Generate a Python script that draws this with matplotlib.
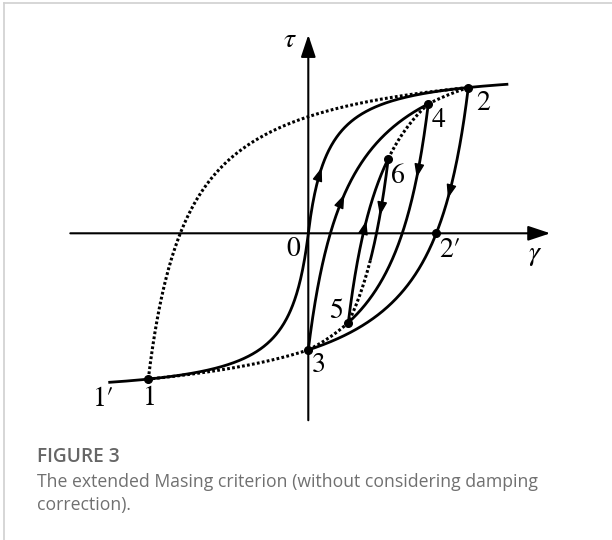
import numpy as np
import matplotlib.pyplot as plt
from matplotlib.lines import Line2D

plt.rcParams['mathtext.fontset'] = 'stix'

# reversal points of the load path (strain, in units of the reference strain)
point_labels = ['1', '2', '3', '4', '5', '6']
point_gamma = [-8.0, 8.0, 0.0, 6.0, 2.0, 4.0]
gamma_max = 10.0          # extent of the backbone curve
gamma_split_6 = 3.1       # unloading from 6 switches to dotted here

# curve arrows: branch it sits on and the strain of the arrowhead
arrow_branch = ['backbone', '3', '5', '6', '4', '2']
arrow_gamma = [0.67, 1.8, 2.9, 3.58, 5.42, 6.98]


def backbone(g):
    # hyperbolic skeleton curve, tau normalised by tau_max
    return g / (1 + np.abs(g))


def masing(g, g0, t0):
    # branch starting at reversal (g0, t0): backbone scaled by 2
    return t0 + 2 * backbone((g - g0) / 2)


# stress at every reversal, following the extended Masing rule
g1, g2, g3, g4, g5, g6 = point_gamma
t2 = backbone(g2)
t1 = backbone(g1)
t3 = masing(g3, g2, t2)
t4 = masing(g4, g3, t3)
t5 = masing(g5, g4, t4)
t6 = masing(g6, g5, t5)
point_tau = [t1, t2, t3, t4, t5, t6]
start = dict(zip(point_labels, zip(point_gamma, point_tau)))

fig = plt.figure(figsize=(6.12, 5.40), dpi=100)
W, H = 612, 540
x0_px, y0_px = 308.3, 540 - 233.3   # origin in figure pixels
sx, sy = 20.0, 164.0                # pixels per unit strain / unit stress
xlim = (-12.5, 13.0)
ylim = (-1.25, 1.35)
ax = fig.add_axes([(x0_px + xlim[0] * sx) / W, (y0_px + ylim[0] * sy) / H,
                   (xlim[1] - xlim[0]) * sx / W, (ylim[1] - ylim[0]) * sy / H])
ax.set_xlim(xlim)
ax.set_ylim(ylim)
ax.axis('off')

dots = dict(color='k', lw=2.2, linestyle=(0, (0.9, 0.75)))
solid = dict(color='k', lw=2.0, solid_capstyle='butt')

# coordinate axes with arrows
ax_arrow = dict(arrowstyle='-|>,head_length=0.75,head_width=0.25', color='k',
                lw=1.5, shrinkA=0, shrinkB=0, mutation_scale=18)
ax.annotate('', xy=(12.1, 0), xytext=(-11.9, 0), arrowprops=ax_arrow)
ax.annotate('', xy=(0, 1.21), xytext=(0, -1.14), arrowprops=ax_arrow)


def seg(a, b, g0, t0, style):
    g = np.linspace(a, b, 300)
    ax.plot(g, masing(g, g0, t0), **style)


# backbone
g = np.linspace(-gamma_max, gamma_max, 600)
ax.plot(g, backbone(g), **solid)

# reloading from 1 (dotted all the way to 2)
seg(g1, g2, g1, t1, dots)
# unloading from 2
seg(g2, g3, g2, t2, solid)
seg(g3, g1, g2, t2, dots)
# reloading from 3
seg(g3, g4, g3, t3, solid)
seg(g4, g2, g3, t3, dots)
# unloading from 4
seg(g4, g5, g4, t4, solid)
seg(g5, g3, g4, t4, dots)
# reloading from 5
seg(g5, g6, g5, t5, solid)
seg(g6, g4, g5, t5, dots)
# unloading from 6
seg(g6, gamma_split_6, g6, t6, solid)
seg(gamma_split_6, g5, g6, t6, dots)

# arrowheads along the branches
head = dict(arrowstyle='-|>,head_length=0.55,head_width=0.2', color='k',
            lw=1.0, shrinkA=0, shrinkB=0, mutation_scale=15)
for br, ga in zip(arrow_branch, arrow_gamma):
    if br == 'backbone':
        f = backbone
        d = 1
    else:
        gs, ts = start[br]
        f = lambda x, gs=gs, ts=ts: masing(x, gs, ts)
        d = 1 if br in ('1', '3', '5') else -1
    ga0 = ga - d * 0.05
    ax.annotate('', xy=(ga, f(ga)), xytext=(ga0, f(ga0)), arrowprops=head)

# 2' : zero-stress crossing of the unloading branch from 2
g2p = g2 - 2 * (t2 / (2 - t2))
ax.plot(point_gamma + [g2p], point_tau + [0.0], 'o', color='k', ms=5.5,
        zorder=5)


# labels: centre x and baseline y in figure pixels
def lab(px, py, s, size=20):
    fig.text(px / W, 1 - py / H, s, fontsize=size, ha='center',
             va='baseline', family='STIXGeneral')


lab(290, 47, r'$\tau$')
lab(535, 260, r'$\gamma$')
lab(293, 256, '0')
lab(483, 110, '2')
lab(439, 127, '4')
lab(398, 183, '6')
lab(450, 257, '2\u2032')
lab(336, 318, '5')
lab(319, 372, '3')
lab(104, 406, '1\u2032')
lab(150, 405, '1')

# page border lines
fig.add_artist(Line2D([4 / W, 4 / W], [0, 1 - 3 / H], color='#d0d0d0', lw=1.2))
fig.add_artist(Line2D([4 / W, 1], [1 - 3 / H, 1 - 3 / H], color='#d0d0d0', lw=1.2))

# caption
fig.text(37 / W, 1 - 457 / H, 'FIGURE 3', fontsize=13.8, fontweight='semibold',
         color='#666666', family='Open Sans', va='center')
fig.text(37 / W, 1 - 482 / H,
         'The extended Masing criterion (without considering damping',
         fontsize=12.7, color='#707070', family='Open Sans', va='center')
fig.text(37 / W, 1 - 505 / H, 'correction).',
         fontsize=12.7, color='#707070', family='Open Sans', va='center')

fig.savefig('out.png', dpi=100)
